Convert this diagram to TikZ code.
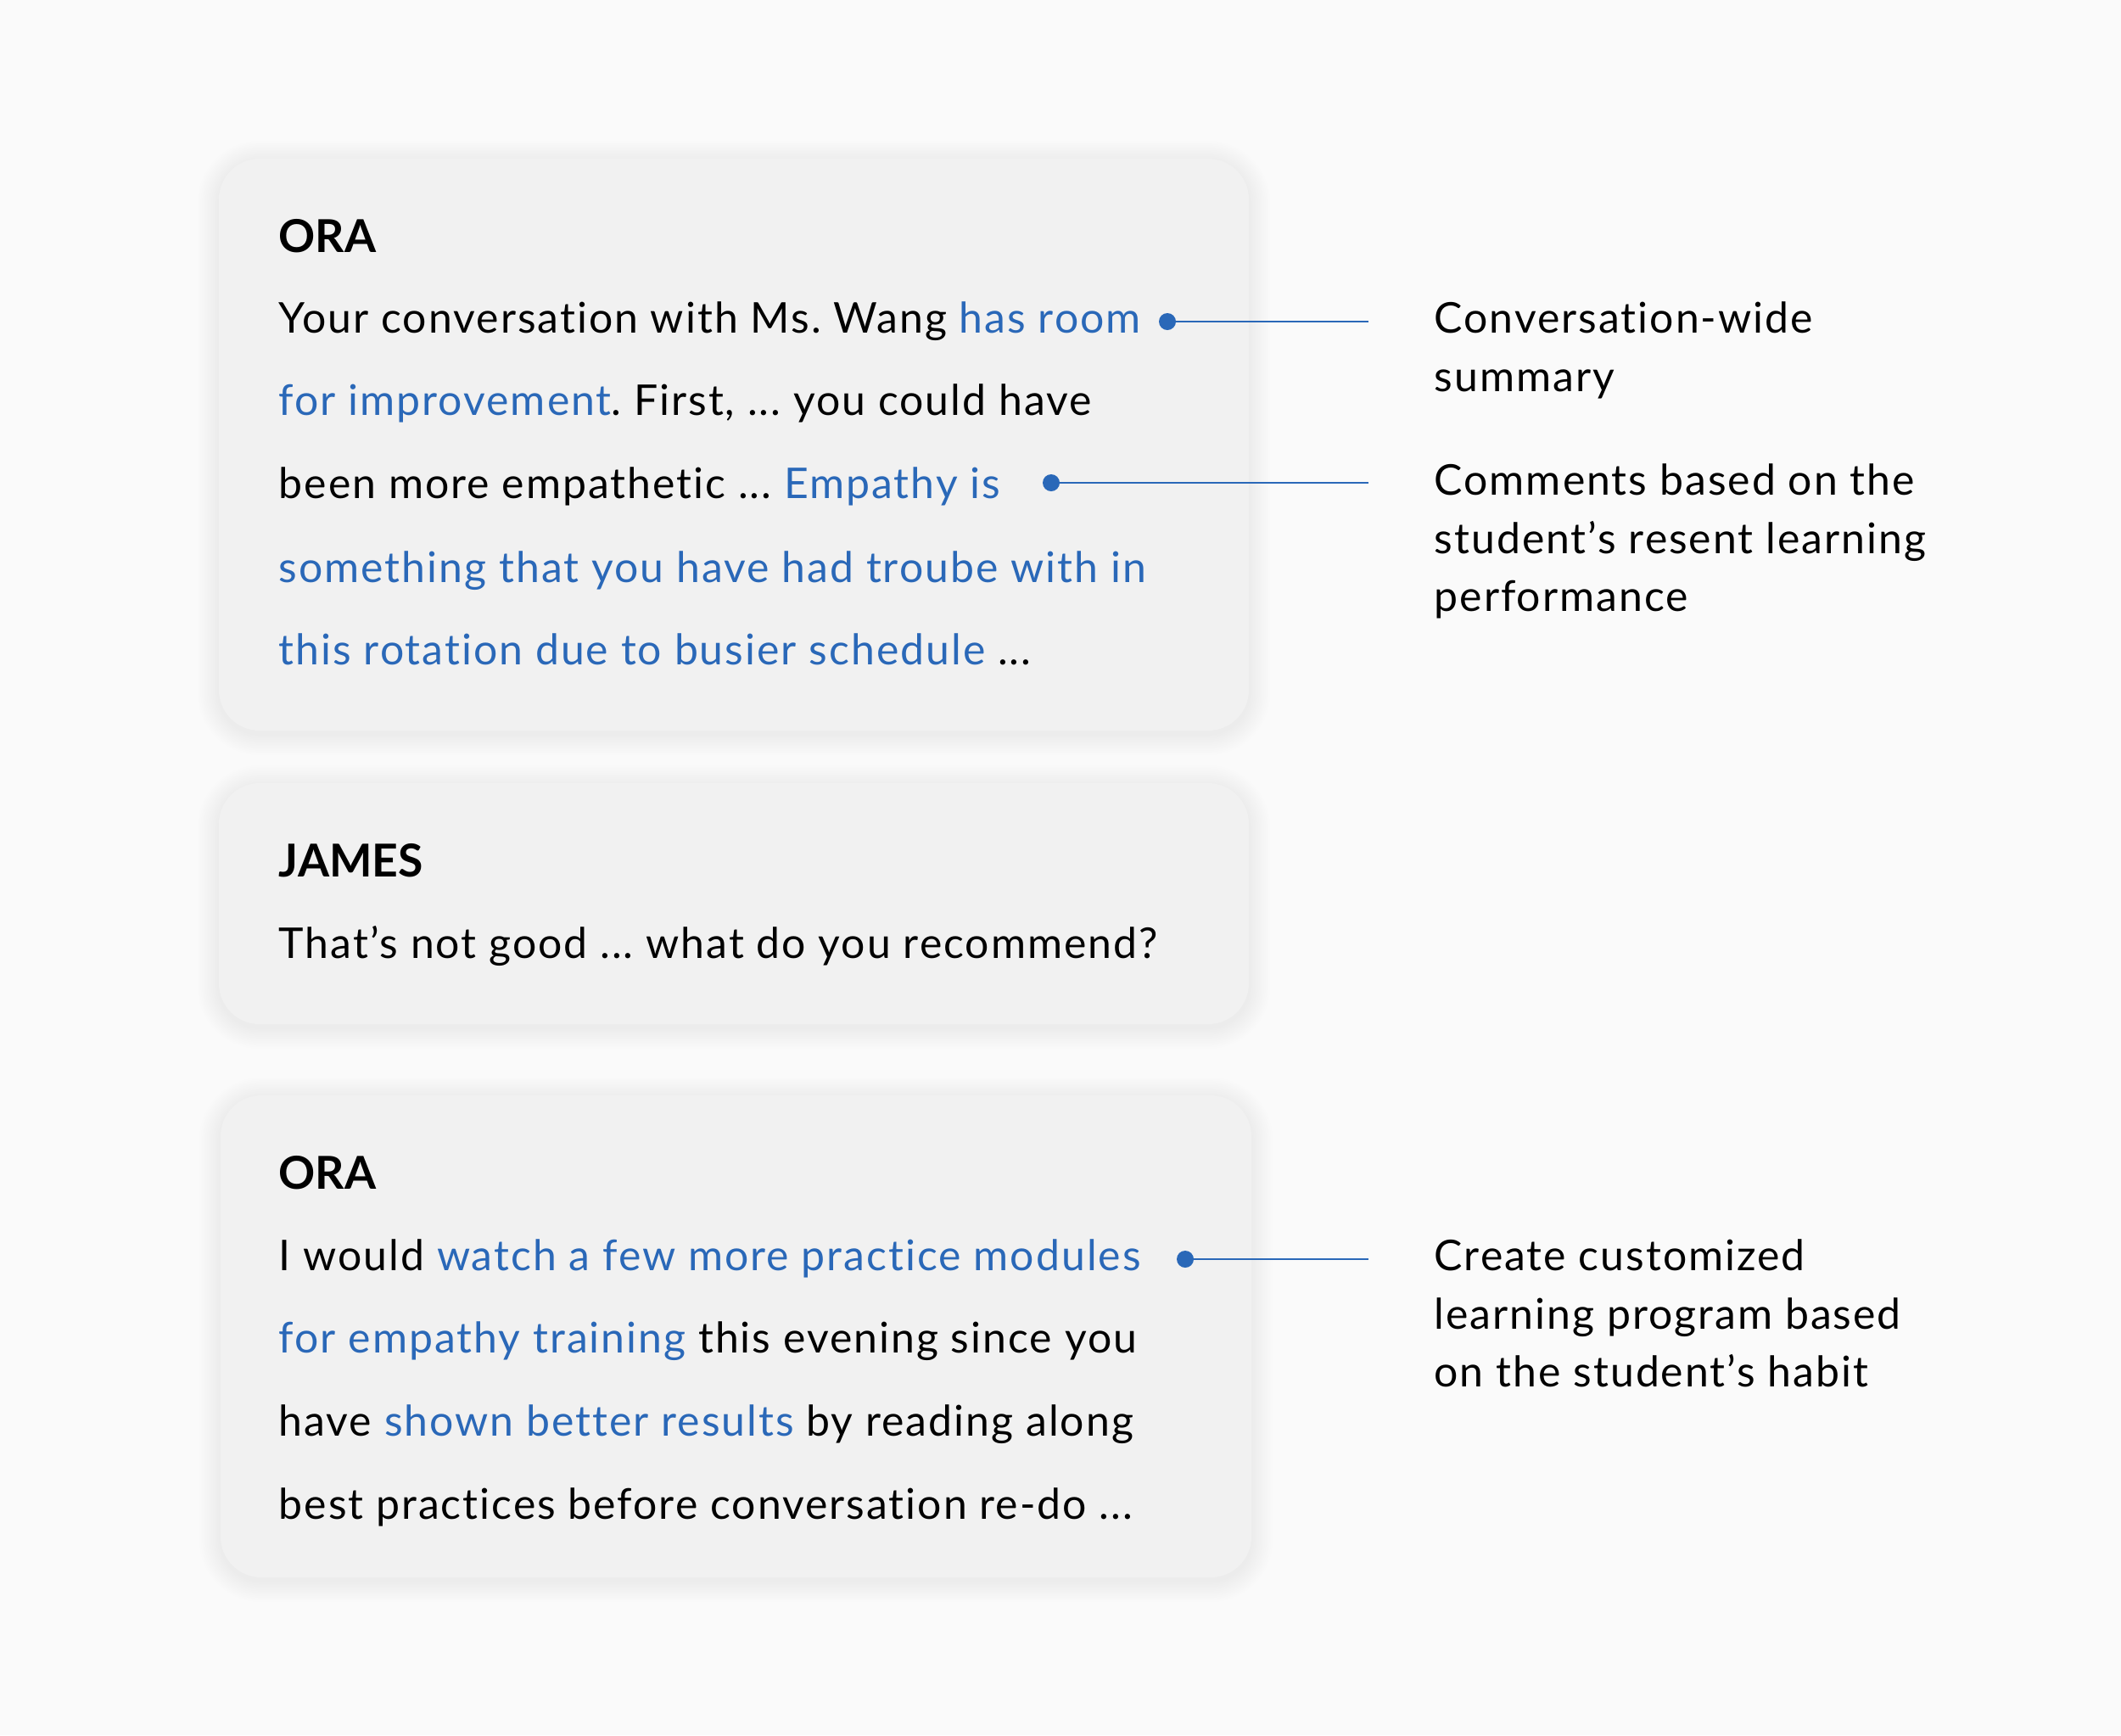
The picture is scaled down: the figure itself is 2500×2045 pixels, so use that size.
\documentclass[tikz,border=0pt]{standalone}
\usepackage{fontspec}
\setmainfont{Lato}[LetterSpace=4, Ligatures={NoCommon}]
\newfontfamily\headfont{Lato Bold}[LetterSpace=0]
\definecolor{bgc}{HTML}{FAFAFA}
\definecolor{cardc}{HTML}{F1F1F1}
\definecolor{hl}{HTML}{2A68B8}
\newcommand{\hlt}[1]{\textcolor{hl}{#1}}
\newcommand{\softcard}[4]{%
  \foreach \i in {1,...,14}{%
    \pgfmathsetmacro{\rr}{(48+1.8*\i)*0.01}%
    \fill[black, opacity=0.0058, rounded corners=\rr cm]
      (#1-1.8*\i,#2-1.8*\i+4) rectangle (#3+1.8*\i,#4+1.8*\i+4);
  }%
  \path[cardbox] (#1,#2) rectangle (#3,#4);
}
\tikzset{
  cardbox/.style={fill=cardc, rounded corners=0.48cm},
  txt/.style={anchor=base west, inner sep=0pt, font=\frenchspacing\fontsize{14.2pt}{17pt}\selectfont, text=black},
  head/.style={anchor=base west, inner sep=0pt, font=\headfont\fontsize{15.2pt}{18pt}\selectfont, text=black},
  dotn/.style={circle, fill=hl, inner sep=0pt, minimum size=0.2cm},
  conn/.style={draw=hl, line width=0.7pt},
}
\begin{document}
\begin{tikzpicture}[x=0.01cm,y=-0.01cm]
\fill[bgc] (0,0) rectangle (2500,2045);
\useasboundingbox (0,0) rectangle (2500,2045);
% cards
\softcard{258}{187}{1472}{861}
\softcard{258}{923}{1472}{1207}
\softcard{260}{1291}{1475}{1859}
% card 1
\node[head] (h1) at (328,297) {ORA};
\node[txt] (a1) at (328,392) {Your conversation with Ms. Wang \hlt{has room}};
\node[txt] (a2) at (328,489) {\hlt{for improvement}. First, ... you could have};
\node[txt] (a3) at (328,587) {been more empathetic ... \hlt{Empathy is}};
\node[txt] (a4) at (328,686) {\hlt{something that you have had troube with in}};
\node[txt] (a5) at (328,783) {\hlt{this rotation due to busier schedule} ...};
% card 2
\node[head] (h2) at (328,1033) {JAMES};
\node[txt] (b1) at (328,1129) {That’s not good ... what do you recommend?};
% card 3
\node[head] (h3) at (328,1401) {ORA};
\node[txt] (c1) at (328,1497) {I would \hlt{watch a few more practice modules}};
\node[txt] (c2) at (328,1594) {\hlt{for empathy training} this evening since you};
\node[txt] (c3) at (328,1692) {have \hlt{shown better results} by reading along};
\node[txt] (c4) at (328,1790) {best practices before conversation re-do ...};
% labels
\node[txt] (l1a) at (1690,392) {Conversation-wide};
\node[txt] (l1b) at (1690,461) {summary};
\node[txt] (l2a) at (1690,583) {Comments based on the};
\node[txt] (l2b) at (1690,652) {student’s resent learning};
\node[txt] (l2c) at (1690,720) {performance};
\node[txt] (l3a) at (1690,1497) {Create customized};
\node[txt] (l3b) at (1690,1566) {learning program based};
\node[txt] (l3c) at (1690,1634) {on the student’s habit};
% connectors
\node[dotn] (d1) at (1376,379) {};
\node[dotn] (d2) at (1239,569) {};
\node[dotn] (d3) at (1397,1484) {};
\coordinate (e1) at (1613,379);
\coordinate (e2) at (1613,569);
\coordinate (e3) at (1613,1484);
\draw[conn] (d1.center) -- (e1);
\draw[conn] (d2.center) -- (e2);
\draw[conn] (d3.center) -- (e3);
\end{tikzpicture}
\end{document}
